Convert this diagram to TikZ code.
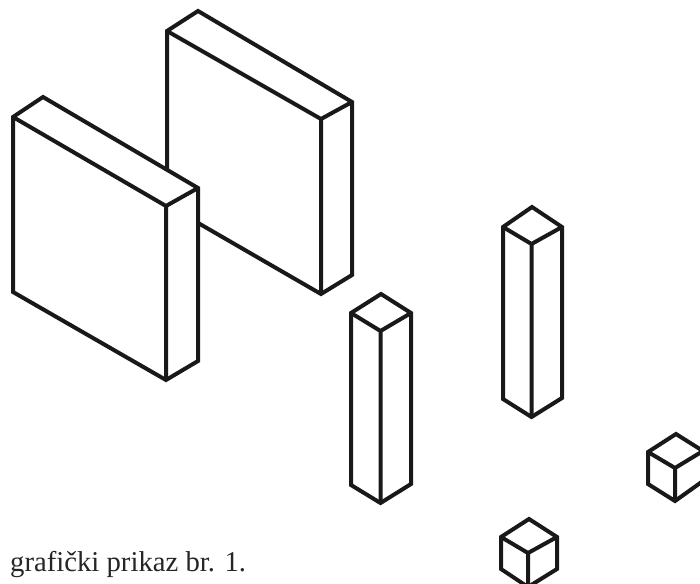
\documentclass[tikz,border=0pt]{standalone}
\usepackage{fontspec}
\setmainfont{Liberation Serif}
\tikzset{solid edge/.style={draw=black!90,line width=4pt,line join=miter,fill=white}}
% #1 top back, #2 left, #3 right, #4 front, #5 bottom left, #6 bottom front, #7 bottom right
\newcommand{\isobox}[7]{
  \path[solid edge] (#2) -- (#1) -- (#3) -- (#7) -- (#6) -- (#5) -- cycle;
  \draw[solid edge,fill=none] (#2) -- (#4) -- (#3) (#4) -- (#6);
}
\begin{document}
\begin{tikzpicture}[x=1pt,y=-1pt]
\path[use as bounding box] (0,0) rectangle (700,583);
\clip (0,0) rectangle (700,583);
\isobox{198,11}{167,31}{352,102}{321,119}{167,205}{321,294}{352,275}
\isobox{43,97}{13,117}{198,188}{166,206}{13,292}{166,380}{198,361}
\isobox{381,294}{351,313}{411,313}{380.5,331}{351,485}{380.5,503}{411,484}
\isobox{532,207}{503,227}{562,227}{531.5,244}{503,399}{531.5,417}{562,398}
\isobox{676,434}{648,452}{703,451}{675,468}{648,484}{675,501}{703,481}
\isobox{529,519}{501,537}{557,537}{528,553}{501,569}{528,587}{557,569}
\node[anchor=base west,inner sep=0pt,font=\fontsize{28.7}{30}\selectfont,text=black!85] (caption) at (10,571) {grafički prikaz br. 1.};
\end{tikzpicture}
\end{document}
